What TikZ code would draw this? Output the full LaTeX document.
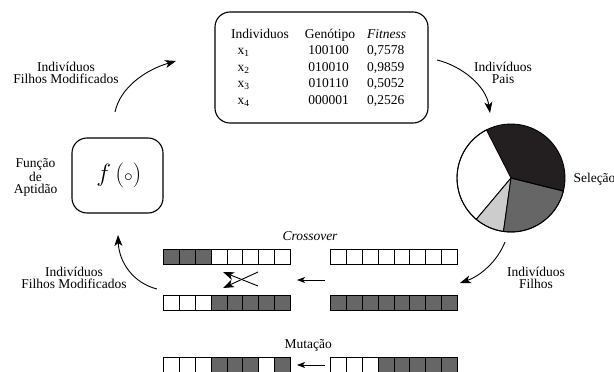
\documentclass[tikz,border=0pt]{standalone}
\usepackage{fontspec}
\setmainfont{Liberation Serif}
\usetikzlibrary{arrows.meta}
\definecolor{pieblack}{HTML}{231F20}
\definecolor{genegray}{HTML}{666666}
\definecolor{pielight}{HTML}{CCCCCC}
\colorlet{D}{genegray}
\colorlet{W}{white}
% one chromosome: name, left x, top y, list of 8 cell colours
\newcommand\generow[4]{%
  \foreach \c [count=\k from 0] in {#4}{%
    \node[gene=\c] (#1-\k) at ({#2+\k*15.875},#3) {};}}
\begin{document}
\begin{tikzpicture}[x=1pt,y=-1pt,
  lbl/.style={align=center,inner sep=0pt,font=\fontsize{13.5}{12}\selectfont},
  tbl/.style={anchor=base,inner sep=0pt,font=\fontsize{13.5}{16}\selectfont},
  rbox/.style={draw,line width=1.1pt,rounded corners=15pt},
  gene/.style={draw,line width=0.9pt,fill=#1,anchor=north west,inner sep=0pt,
    minimum width=15.875pt,minimum height=15pt},
  flow/.style={line width=0.9pt,-{Stealth[length=11pt,width=8pt,inset=3pt]}},
  small/.style={line width=0.9pt,-{Stealth[length=8pt,width=6pt,inset=2pt]}},
  slice/.style={draw,line width=0.9pt,fill=#1}]
\useasboundingbox (0,0) rectangle (614,372);

% population table
\node[rbox,minimum width=213pt,minimum height=111pt] (pop) at (321.5,67.5) {};
\node[tbl] (hInd) at (260,38.3) {Individuos};
\node[tbl] (hGen) at (330,38.3) {Genótipo};
\node[tbl,anchor=base west] (hFit) at (367,38.3) {\itshape Fitness};
\foreach \n/\g/\f/\y in {1/100100/0{,}7578/54.6, 2/010010/0{,}9859/71.2,
                         3/010110/0{,}5052/87.8, 4/000001/0{,}2526/104.4}{%
  \node[tbl] (x\n) at (243.5,\y) {x\textsubscript{\n}};
  \node[tbl] (g\n) at (328.5,\y) {\g};
  \node[tbl,anchor=base west] (f\n) at (367,\y) {\f};}

% fitness function
\node[rbox,minimum width=91pt,minimum height=75pt] (fit) at (117.5,175.5) {};
\node[inner sep=0pt,font=\fontsize{25}{25}\selectfont] (fx) at (119,175.5) {$f\,({\scriptstyle\circ})$};
\node[lbl] (fitlbl) at (35.5,177.5) {Função\\de\\Aptidão};

% selection wheel
\begin{scope}[shift={(511,178)},y=1pt]
  \coordinate (pc) at (0,0);
  \fill[pieblack] (pc) -- (-14:54) arc (-14:117:54) -- cycle;
  \draw[slice=white] (pc) -- (117:54) arc (117:230:54) -- cycle;
  \draw[slice=pielight] (pc) -- (230:54) arc (230:262:54) -- cycle;
  \draw[slice=genegray] (pc) -- (262:54) arc (262:346:54) -- cycle;
  \draw[line width=0.9pt] (0,0) circle (54);
  \draw[line width=0.9pt] (pc) -- (-14:54);
\end{scope}
\node[inner sep=0pt,anchor=base west,font=\fontsize{13.5}{16}\selectfont] (sel) at (573.3,182.7) {Seleção};

% labels on the cycle
\node[lbl] (lblTL) at (66,73) {Indivíduos\\Filhos Modificados};
\node[lbl] (lblTR) at (503,73) {Indivíduos\\Pais};
\node[lbl] (lblBR) at (536,278) {Indivíduos\\Filhos};
\node[lbl] (lblBL) at (74,278) {Indivíduos\\Filhos Modificados};

% chromosomes
\generow{c1}{163}{249}{D,D,D,W,W,W,W,W}
\generow{p1}{330}{249}{W,W,W,W,W,W,W,W}
\generow{c2}{163}{295}{W,W,W,D,D,D,D,D}
\generow{p2}{330}{295}{D,D,D,D,D,D,D,D}
\generow{m1}{163}{356.5}{W,W,W,D,D,D,W,D}
\generow{m0}{330}{356.5}{W,W,W,D,D,D,D,D}
\node[tbl,font=\fontsize{13.5}{16}\selectfont\itshape] (cross) at (310,240.7) {Crossover};
\node[tbl] (mut) at (308.3,348.3) {Mutação};

% connectors
\coordinate (a1s) at (115,112); \coordinate (a1e) at (176,61);
\coordinate (a2s) at (437,60);  \coordinate (a2e) at (490,113);
\coordinate (a3s) at (505,242); \coordinate (a3e) at (460,283);
\coordinate (a4s) at (157,289); \coordinate (a4e) at (118,235);
\draw[flow] (a1s) .. controls (120,88) and (145,70) .. (a1e);
\draw[flow] (a2s) .. controls (462,66) and (486,86) .. (a2e);
\draw[flow] (a3s) .. controls (497,262) and (480,276) .. (a3e);
\draw[flow] (a4s) .. controls (133,283) and (119,262) .. (a4e);

\coordinate (xa) at (258,272); \coordinate (xb) at (223,288);
\coordinate (xc) at (258,286); \coordinate (xd) at (223,272);
\draw[flow] (xa) -- (xb);
\draw[flow] (xc) -- (xd);

\coordinate (s1) at (325,280); \coordinate (e1) at (297,280);
\coordinate (s2) at (325,365); \coordinate (e2) at (297,365);
\draw[small] (s1) -- (e1);
\draw[small] (s2) -- (e2);
\end{tikzpicture}
\end{document}
